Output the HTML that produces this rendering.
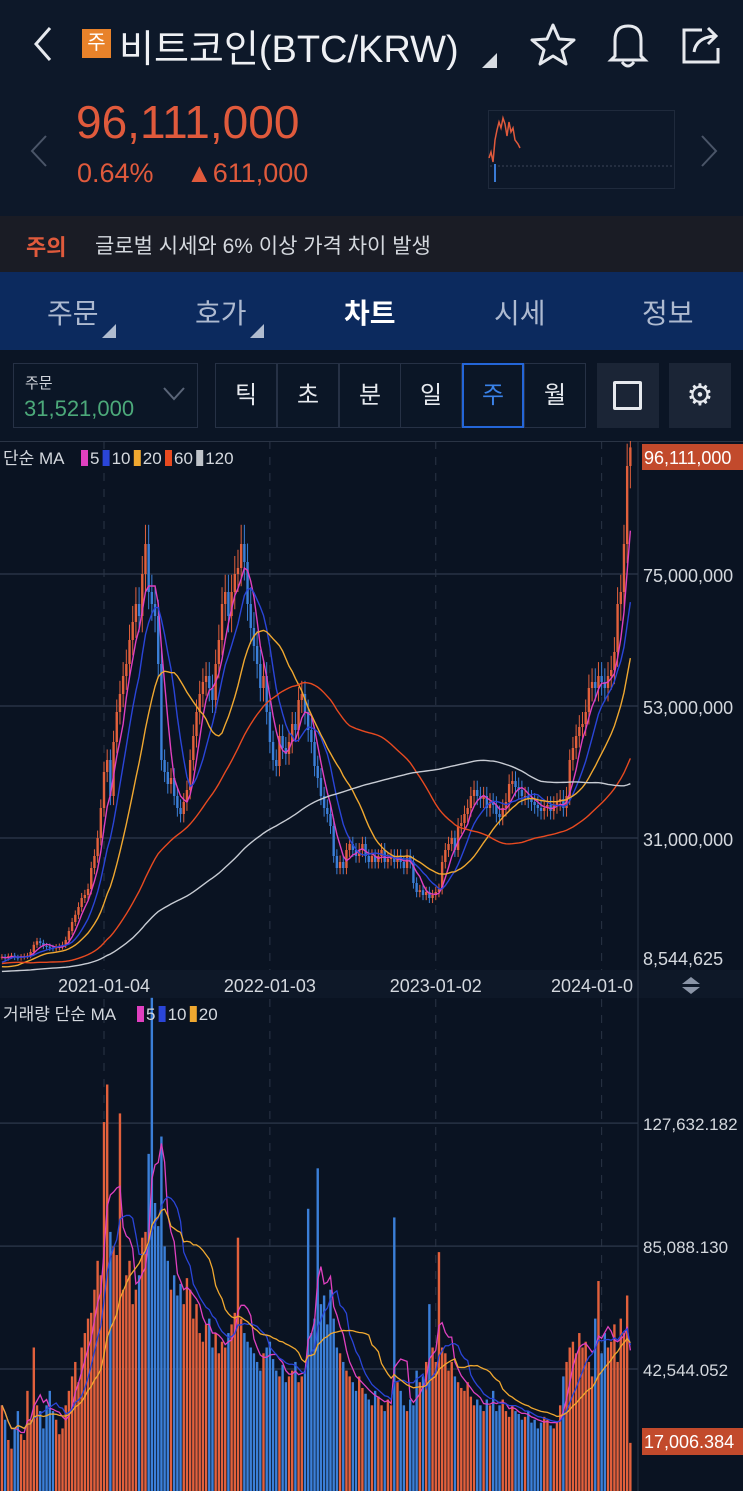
<!DOCTYPE html>
<html><head><meta charset="utf-8">
<style>
*{margin:0;padding:0;box-sizing:border-box}
body{width:743px;height:1491px;overflow:hidden;background:#0a1322;font-family:"Liberation Sans","Noto Sans CJK KR",sans-serif;position:relative;color:#e8ecf2}
.a{position:absolute}
.tab{position:absolute;top:292px;font-size:28px;color:#aebad0}
.cell{position:absolute;top:363px;height:65px;width:62px;border:1px solid #263145;text-align:center;line-height:63px;font-size:24px;color:#e6e9ee;background:#0b1626}
</style></head><body>
<div class="a" style="left:0;top:0;width:743px;height:216px;background:#0d1829"></div>
<svg class="a" style="left:28px;top:24px" width="30" height="40"><polyline points="22,4 8,20 22,36" fill="none" stroke="#e6e9ee" stroke-width="3"/></svg>
<div class="a" style="left:82px;top:29px;width:29px;height:29px;background:#e8822a;color:#fff;font-size:20px;text-align:center;line-height:29px">주</div>
<div class="a" style="left:119px;top:18px;font-size:38px;color:#eef0f4">비트코인(BTC/KRW)</div>
<svg class="a" style="left:482px;top:53px" width="16" height="16"><polygon points="15,0 15,15 0,15" fill="#d8dce2"/></svg>
<svg class="a" style="left:530px;top:22px" width="46" height="44"><polygon points="23,3 29,17 44,18 32,28 36,42 23,34 10,42 14,28 2,18 17,17" fill="none" stroke="#e6e9ee" stroke-width="3" stroke-linejoin="round"/></svg>
<svg class="a" style="left:605px;top:20px" width="46" height="48"><path d="M10,36 L10,20 Q10,6 23,6 Q36,6 36,20 L36,36 L40,40 L6,40 Z" fill="none" stroke="#e6e9ee" stroke-width="3"/><path d="M17,42 Q23,50 29,42" fill="none" stroke="#e6e9ee" stroke-width="3"/></svg>
<svg class="a" style="left:680px;top:22px" width="46" height="44"><path d="M22,8 L4,8 L4,40 L38,40 L38,26" fill="none" stroke="#e6e9ee" stroke-width="3"/><path d="M14,30 Q16,16 34,14 M28,6 L36,14 L28,22" fill="none" stroke="#e6e9ee" stroke-width="3"/></svg>
<svg class="a" style="left:28px;top:134px" width="22" height="34"><polyline points="18,2 4,17 18,32" fill="none" stroke="#4a5568" stroke-width="2"/></svg>
<svg class="a" style="left:698px;top:134px" width="22" height="34"><polyline points="4,2 18,17 4,32" fill="none" stroke="#4a5568" stroke-width="2"/></svg>
<div class="a" style="left:76px;top:95px;font-size:46px;color:#e05a3c">96,111,000</div>
<div class="a" style="left:77px;top:158px;font-size:27px;color:#e05a3c">0.64%</div>
<div class="a" style="left:186px;top:158px;font-size:27px;color:#e05a3c">▲611,000</div>
<svg class="a" style="left:488px;top:110px" width="187" height="79"><rect x="0.5" y="0.5" width="186" height="78" fill="none" stroke="#1f2a3c"/><line x1="2" y1="56" x2="184" y2="56" stroke="#3a4558" stroke-dasharray="2,2"/><polyline points="1,48 3,42 5,52 7,30 9,20 11,12 13,18 15,8 17,14 19,26 21,12 23,22 25,18 27,30 30,34 32,38" fill="none" stroke="#e05a3c" stroke-width="1.5"/><line x1="7" y1="54" x2="7" y2="72" stroke="#3a7bd5" stroke-width="2"/></svg>
<div class="a" style="left:0;top:216px;width:743px;height:56px;background:#1a1c25"></div>
<div class="a" style="left:26px;top:230px;font-size:22px;font-weight:bold;color:#e05a3c">주의</div>
<div class="a" style="left:95px;top:230px;font-size:21px;color:#d4d8de">글로벌 시세와 6% 이상 가격 차이 발생</div>
<div class="a" style="left:0;top:272px;width:743px;height:78px;background:#0c2a5e"></div>
<div class="tab" style="left:47px">주문</div>
<div class="tab" style="left:195px">호가</div>
<div class="tab" style="left:344px;color:#fff;font-weight:bold">차트</div>
<div class="tab" style="left:494px">시세</div>
<div class="tab" style="left:642px">정보</div>
<svg class="a" style="left:102px;top:324px" width="15" height="15"><polygon points="14,0 14,14 0,14" fill="#b0bcd0"/></svg>
<svg class="a" style="left:250px;top:324px" width="15" height="15"><polygon points="14,0 14,14 0,14" fill="#b0bcd0"/></svg>
<div class="a" style="left:0;top:350px;width:743px;height:91px;background:#0b1525"></div>
<div class="a" style="left:13px;top:363px;width:185px;height:65px;border:1px solid #263145;background:#0b1626"></div>
<div class="a" style="left:25px;top:372px;font-size:15px;color:#d0d4da">주문</div>
<div class="a" style="left:24px;top:396px;font-size:22px;color:#4ca97a">31,521,000</div>
<svg class="a" style="left:162px;top:386px" width="24" height="16"><polyline points="2,2 12,13 22,2" fill="none" stroke="#5a6578" stroke-width="2"/></svg>
<div class="cell" style="left:215px">틱</div>
<div class="cell" style="left:277px">초</div>
<div class="cell" style="left:339px">분</div>
<div class="cell" style="left:400px">일</div>
<div class="cell" style="left:524px">월</div>
<div class="cell" style="left:462px;border:2px solid #2466d8;color:#3a82e8;line-height:61px">주</div>
<div class="a" style="left:597px;top:363px;width:62px;height:65px;background:#1b2536"><div class="a" style="left:16px;top:18px;width:29px;height:29px;border:3px solid #e6e9ee;border-radius:2px"></div></div>
<div class="a" style="left:669px;top:363px;width:62px;height:65px;background:#1b2536;text-align:center;line-height:65px;font-size:30px;color:#e6e9ee">⚙</div>

<svg id="chart" class="a" style="left:0;top:441px" width="743" height="1050"></svg>
<script>
const priorCloses=[6.0,4.5,4.2,4.0,4.2,4.0,4.1,4.0,4.1,4.0,
4.2,4.3,4.4,4.5,4.6,5.0,5.5,5.8,6.0,6.5,
8.0,9.0,9.5,10.0,11.0,13.0,14.0,13.0,12.0,11.5,
12.0,13.0,12.5,11.0,11.5,12.0,11.5,12.0,11.0,10.5,
10.0,9.5,9.8,10.0,9.5,9.0,10.0,9.0,8.5,8.8,
8.5,8.7,8.5,8.8,9.0,9.5,10.0,10.5,11.0,11.5,
11.0,10.0,9.5,8.8,6.5,7.0,7.5,8.0,8.5,9.0,
8.6,9.0,9.5,11.0,11.5,11.0,10.8,11.2];
const closes=[11.2,11.0,11.3,11.4,11.1,11.0,11.2,11.3,11.4,12.0,
13.2,13.8,13.5,13.0,12.9,12.7,12.6,12.8,12.9,13.2,
14.0,15.5,17.0,18.2,19.5,21.0,21.5,22.5,26.0,28.0,
31.0,36.0,42.0,44.0,38.0,47.0,52.0,55.0,58.0,60.0,
64.0,67.0,70.0,68.0,75.0,80.0,72.0,70.0,68.0,60.0,
44.0,42.0,40.0,41.0,38.0,36.0,35.0,37.0,39.0,44.0,
48.0,52.0,55.0,57.0,58.0,56.0,54.0,60.0,64.0,70.0,
72.0,68.0,72.0,75.0,76.0,80.0,77.0,70.0,66.0,63.0,
60.0,56.0,58.0,52.0,47.0,44.0,43.0,48.0,46.0,45.0,
47.0,50.0,49.0,54.0,55.0,52.0,49.0,47.0,43.0,41.0,
38.0,36.0,35.0,33.0,28.0,26.0,27.0,26.0,29.0,30.0,
29.0,28.0,29.0,30.0,28.0,27.0,28.0,27.0,28.0,29.0,
27.0,27.5,28.0,27.0,28.0,27.0,26.0,28.0,27.0,23.5,
22.0,22.3,21.5,22.0,21.0,21.5,22.0,22.5,27.0,29.0,
30.0,31.0,29.0,33.0,33.5,35.0,36.0,38.0,39.0,38.0,
37.5,38.0,36.0,37.0,36.5,35.0,34.5,36.0,37.0,40.0,
40.5,39.5,39.0,38.0,38.0,37.5,37.0,36.5,36.0,35.5,
36.0,36.5,35.5,36.5,37.0,37.5,36.0,38.0,44.0,46.0,
48.0,49.5,50.0,52.0,56.0,57.0,56.0,58.0,57.0,56.0,
58.0,59.0,62.0,70.0,72.0,80.0,93.0,96.1];
const volumes=[30,25,18,15,22,28,20,18,35,25,
50,30,28,22,30,35,28,25,20,22,
30,35,40,45,38,50,55,60,62,70,
80,75,128,141,90,85,82,131,70,75,
80,65,70,75,88,90,117,171,100,92,
123,85,80,70,75,68,72,65,74,70,
60,65,55,52,58,60,50,55,48,52,
50,55,58,62,88,60,55,52,50,48,
45,42,48,50,52,46,42,40,44,38,
40,42,45,38,40,42,98,55,60,112,
65,68,58,70,60,50,48,45,42,40,
38,35,40,36,34,32,30,35,33,30,
28,32,30,95,38,35,30,28,32,30,
42,38,40,45,65,50,45,83,50,48,
42,45,40,38,36,35,38,33,30,32,
30,28,32,30,35,28,30,32,28,26,
30,28,27,25,26,28,24,25,22,24,
26,25,23,22,24,30,40,45,50,52,
48,55,50,52,45,40,60,73,48,55,
50,52,58,45,60,55,68,17];
const priceTicks=[75000000,53000000,31000000];
const priceTickLabels=["75,000,000","53,000,000","31,000,000"];
const dateLabels=["2021-01-04","2022-01-03","2023-01-02","2024-01-0"];
const dateIdx=[32,84,136,188];
const volTicks=[127632.182,85088.130,42544.052];
const volTickLabels=["127,632.182","85,088.130","42,544.052"];
const lastVolLabel="17,006.384";
const lastPriceLabel="96,111,000";
const minPriceLabel="8,544,625";

const svg=document.getElementById('chart');const NS='http://www.w3.org/2000/svg';
const OY=441;
function X(i){return 104+(i-32)*3.19;}
function PY(p){return 838-(p-31)*6-OY;}
function VY(v){return 1492-v*2.89-OY;}
function mk(tag,attrs,name,inter){const e=document.createElementNS(NS,tag);for(const k in attrs)e.setAttribute(k,attrs[k]);


svg.appendChild(e);return e;}
function txt(s,x,y,size,fill,name,anchor){const t=mk('text',{x:x,y:y,'font-size':size,fill:fill,'font-family':'Liberation Sans, Noto Sans CJK KR, sans-serif','text-anchor':anchor||'start'},name,false);t.textContent=s;return t;}
mk('line',{x1:0,y1:0.5,x2:743,y2:0.5,stroke:'#2a3445'},'chart-top-border',false);
priceTicks.forEach((p,k)=>{const y=PY(p/1e6);
mk('line',{x1:0,y1:y,x2:638,y2:y,stroke:'#273244','stroke-width':1.5},'price-gridline',false);
txt(priceTickLabels[k],643,y+8,18,'#d4d8de','price-tick-label');});
volTicks.forEach((v,k)=>{const y=VY(v/1000);
mk('line',{x1:0,y1:y,x2:638,y2:y,stroke:'#273244','stroke-width':1.5},'volume-gridline',false);
txt(volTickLabels[k],643,y+7,17,'#d4d8de','volume-tick-label');});
dateIdx.forEach(i=>{const x=X(i);
mk('line',{x1:x,y1:0,x2:x,y2:529,stroke:'#2a3446','stroke-dasharray':'8,8'},'date-gridline',false);
mk('line',{x1:x,y1:558,x2:x,y2:1050,stroke:'#2a3446','stroke-dasharray':'8,8'},'date-gridline',false);});
mk('rect',{x:0,y:529,width:743,height:28,fill:'#0e1828'},'date-axis',false);
dateIdx.forEach((i,k)=>{const x=X(i);txt(dateLabels[k],k==3?551:x,551,18,'#d4d8de','date-tick-label',k==3?'start':'middle');});
mk('rect',{x:638,y:529,width:105,height:28,fill:'#0e1828'},'axis-corner',false);
mk('polygon',{points:'682,543 691,536 700,543',fill:'#8a94a6'},'resize-up',true);
mk('polygon',{points:'682,546 691,553 700,546',fill:'#8a94a6'},'resize-down',true);
mk('line',{x1:638,y1:0,x2:638,y2:1050,stroke:'#2a3445'},'axis-separator',false);
txt(minPriceLabel,643,524,18,'#d4d8de','price-min-label');
for(let i=0;i<closes.length;i++){const c=closes[i],o=i?closes[i-1]:c;const up=c>=o;const col=up?'#e2603c':'#3b7fd8';const x=X(i);
const hi=Math.max(o,c)*1.04,lo=Math.min(o,c)*0.96;
mk('line',{x1:x,y1:PY(hi),x2:x,y2:PY(lo),stroke:col,'stroke-width':1},'candle-wick',false);
const y1=PY(Math.max(o,c)),y2=PY(Math.min(o,c));
mk('rect',{x:x-1.2,y:y1,width:2.4,height:Math.max(1,y2-y1),fill:col},'candle-body',false);
const vy=VY(volumes[i]);mk('rect',{x:x-1.2,y:vy,width:2.4,height:1050-vy,fill:col},'volume-bar',false);}
function ma(arr,n,off){return arr.map((_,i)=>{const s=Math.max(0,i-n+1);let t=0;for(let j=s;j<=i;j++)t+=arr[j];return t/(i-s+1);}).slice(off);}
const allCloses=priorCloses.concat(closes);
[[5,'#e040c0'],[10,'#2a45d8'],[20,'#f0a830'],[60,'#e84a20'],[120,'#c8ccd4']].forEach(([n,col])=>{const m=ma(allCloses,n,priorCloses.length);
mk('polyline',{points:m.map((v,i)=>X(i)+','+PY(v)).join(' '),fill:'none',stroke:col,'stroke-width':1.4},'price-ma-'+n,false);});
[[5,'#e040c0'],[10,'#2a45d8'],[20,'#f0a830']].forEach(([n,col])=>{const m=ma(volumes,n,0);
mk('polyline',{points:m.map((v,i)=>X(i)+','+VY(v)).join(' '),fill:'none',stroke:col,'stroke-width':1.3},'volume-ma-'+n,false);});
mk('rect',{x:642,y:3,width:101,height:26,fill:'#c24a2c'},'last-price-box',false);
txt(lastPriceLabel,644,23,18,'#fff','last-price-label');
mk('rect',{x:642,y:987,width:101,height:27,fill:'#c24a2c'},'last-volume-box',false);
txt(lastVolLabel,644,1007,18,'#fff','last-volume-label');
function legend(items,y,start,name){let x=start.x;txt(start.t,3,y,17,'#d4d8de',name+'-title');
items.forEach(([lab,col])=>{mk('rect',{x:x,y:y-14,width:7,height:16,fill:col},name+'-swatch',false);txt(lab,x+9,y,17,'#d4d8de',name+'-entry');x+=9+lab.length*9.6+3;});}
legend([['5','#e040c0'],['10','#2a45d8'],['20','#f0a830'],['60','#e84a20'],['120','#bfc3c9']],23,{x:81,t:'단순 MA'},'price-legend');
legend([['5','#e040c0'],['10','#2a45d8'],['20','#f0a830']],579,{x:137,t:'거래량 단순 MA'},'volume-legend');
</script>
</body></html>
